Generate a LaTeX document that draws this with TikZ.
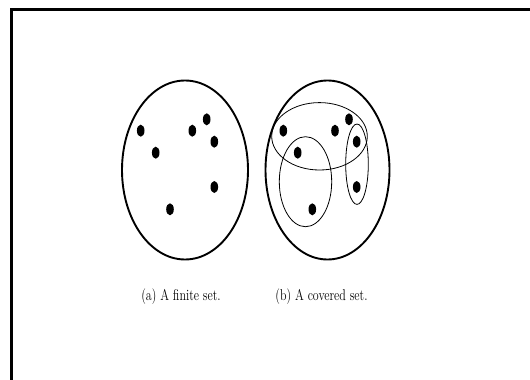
\documentclass[tikz,border=0pt]{standalone}
\usepackage{graphicx}
\begin{document}
\begin{tikzpicture}[x=1pt,y=-1pt,
  setline/.style={line width=1.9pt},
  coverline/.style={line width=0.8pt},
  elem/.style={fill=black},
  caption/.style={inner sep=0pt, font=\fontsize{12}{14}\selectfont}]
\useasboundingbox (0,0) rectangle (530,380);
\fill[white] (0,0) rectangle (530,380);
% page frame (top and left edges)
\draw[line width=2.2pt] (11.5,380) -- (11.5,9.5) -- (530,9.5);

% (a) the finite set
\coordinate (A) at (185,170);
\draw[setline] (A) ellipse [x radius=63, y radius=89.5];
\foreach \px/\py in {140.7/130.7, 155.7/152.7, 192.3/130.7, 206.7/119.3, 214.3/141.7, 214.3/187, 170/209.3}
  \fill[elem] (\px,\py) ellipse [x radius=3.8, y radius=6];

% (b) the same set with its covering subsets
\coordinate (B) at (327.5,170);
\draw[setline] (B) ellipse [x radius=62, y radius=89.5];
\foreach \px/\py in {283.3/130.7, 297.7/152.7, 335/130.7, 349/119.3, 356.7/141.7, 356.7/187, 312.3/209.3}
  \fill[elem] (\px,\py) ellipse [x radius=3.8, y radius=6];
\draw[coverline] (319.5,136.3) ellipse [x radius=47.8, y radius=33.7];
\draw[coverline] (305.5,181.7) ellipse [x radius=26.2, y radius=45];
\draw[coverline] (357,164.2) ellipse [x radius=11.3, y radius=40.2];

% captions
\node[caption] (capa) at (181,297) {\scalebox{1}[1.3]{(a) A finite set.}};
\node[caption] (capb) at (321.5,297) {\scalebox{1}[1.3]{(b) A covered set.}};
\end{tikzpicture}
\end{document}
